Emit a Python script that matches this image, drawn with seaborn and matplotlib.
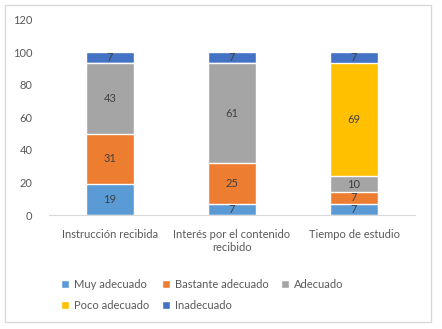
import matplotlib
matplotlib.use('Agg')
import matplotlib.pyplot as plt
import pandas as pd
import seaborn as sns
from matplotlib.patches import Rectangle

categories = ['Instrucción recibida', 'Interés por el contenido\nrecibido', 'Tiempo de estudio']
series = ['Muy adecuado', 'Bastante adecuado', 'Adecuado', 'Poco adecuado', 'Inadecuado']
muy_adecuado = [19, 7, 7]
bastante_adecuado = [31, 25, 7]
adecuado = [43, 61, 10]
poco_adecuado = [0, 0, 69]
inadecuado = [7, 7, 7]

colors = ['#5B9BD5', '#ED7D31', '#A5A5A5', '#FFC000', '#4472C4']
values = [muy_adecuado, bastante_adecuado, adecuado, poco_adecuado, inadecuado]


def main():
  sns.set_style('white')
  plt.rcParams['font.family'] = ['Lato', 'DejaVu Sans']
  text_color = '#595959'

  fig = plt.figure(figsize=(4.42, 3.29), dpi=100)
  ax = fig.add_axes([0.111, 0.3465, 0.828, 0.5945])

  # cumulative tops, drawn from the top segment down so lower ones cover
  cum = []
  run = [0, 0, 0]
  for v in values:
    run = [a + b for a, b in zip(run, v)]
    cum.append(run)

  for i in reversed(range(len(series))):
    df = pd.DataFrame({'cat': categories, 'top': cum[i]})
    sns.barplot(data=df, x='cat', y='top', color=colors[i], width=0.4,
                saturation=1, ax=ax, label=series[i])

  # labels in the middle of each segment
  for i, v in enumerate(values):
    for j, val in enumerate(v):
      if val == 0:
        continue
      mid = cum[i][j] - val / 2
      ax.text(j, mid, str(val), ha='center', va='center',
              fontsize=8, color='#404040')

  ax.set_ylim(0, 120)
  ax.set_yticks(range(0, 121, 20))
  ax.set_xlim(-0.5, 2.5)
  ax.set_xlabel('')
  ax.set_ylabel('')
  for s in ['top', 'right', 'left']:
    ax.spines[s].set_visible(False)
  ax.spines['bottom'].set_color('#D9D9D9')
  ax.tick_params(axis='both', length=0, labelsize=8, labelcolor=text_color)
  ax.tick_params(axis='y', pad=12)
  ax.tick_params(axis='x', pad=10)
  for t in ax.get_xticklabels():
    t.set_multialignment('center')

  handles, labels = ax.get_legend_handles_labels()
  if ax.get_legend() is not None:
    ax.get_legend().remove()
  lookup = dict(zip(labels, handles))
  order = ['Muy adecuado', 'Poco adecuado', 'Bastante adecuado', 'Inadecuado', 'Adecuado']
  fig.legend([lookup[o] for o in order], order, ncol=3, frameon=False,
             loc='upper left', bbox_to_anchor=(0.128, 0.167),
             fontsize=8, labelcolor=text_color, handlelength=0.75,
             handleheight=0.75, handletextpad=0.4, columnspacing=1.15,
             labelspacing=0.9, borderaxespad=0)

  fig.patches.append(Rectangle((5 / 442, 7 / 329), 426 / 442, 317 / 329,
                               transform=fig.transFigure, fill=False,
                               edgecolor='#D9D9D9', linewidth=1))

  fig.savefig('out.png', dpi=100)


if __name__ == '__main__':
  main()
